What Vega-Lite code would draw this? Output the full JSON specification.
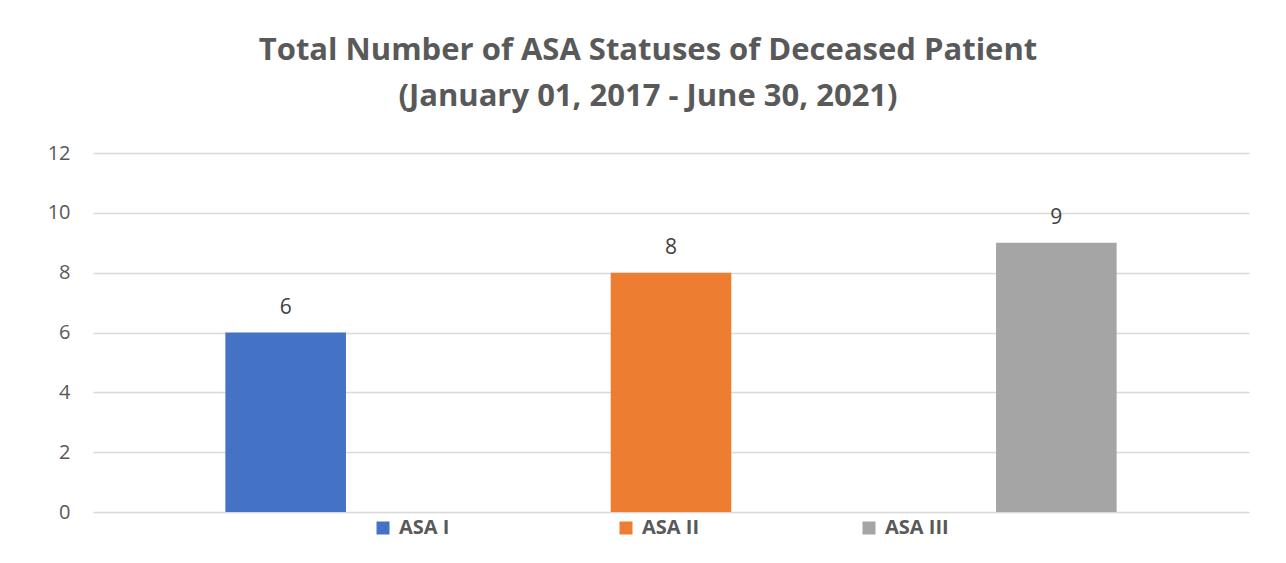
{
  "$schema": "https://vega.github.io/schema/vega-lite/v6.json",
  "autosize": "none",
  "width": 1156,
  "height": 359,
  "padding": {"left": 93, "top": 153, "right": 37, "bottom": 51},
  "background": "white",
  "config": {"view": {"stroke": null}},
  "title": {
    "text": ["Total Number of ASA Statuses of Deceased Patient", "(January 01, 2017 - June 30, 2021)"],
    "font": "Open Sans",
    "fontSize": 31,
    "fontWeight": "bold",
    "color": "#595959",
    "anchor": "middle",
    "frame": "group",
    "dx": -23,
    "offset": 30,
    "lineHeight": 46
  },
  "data": {
    "values": [
      {"status": "ASA I", "count": 6},
      {"status": "ASA II", "count": 8},
      {"status": "ASA III", "count": 9}
    ]
  },
  "encoding": {
    "x": {
      "field": "status",
      "type": "nominal",
      "sort": null,
      "axis": null,
      "scale": {"paddingInner": 0.687, "paddingOuter": 0.3435}
    },
    "y": {
      "field": "count",
      "type": "quantitative",
      "scale": {"domain": [0, 12], "nice": false},
      "axis": {
        "title": null,
        "values": [0, 2, 4, 6, 8, 10, 12],
        "domain": false,
        "ticks": false,
        "grid": true,
        "gridColor": "#D9D9D9",
        "gridWidth": 1.3,
        "labelFont": "Open Sans",
        "labelFontSize": 20,
        "labelColor": "#595959",
        "labelPadding": 23
      }
    }
  },
  "layer": [
    {
      "mark": {"type": "bar"},
      "encoding": {
        "color": {
          "field": "status",
          "type": "nominal",
          "sort": null,
          "scale": {"domain": ["ASA I", "ASA II", "ASA III"], "range": ["#4472C4", "#ED7D31", "#A5A5A5"]},
          "legend": {
            "title": null,
            "orient": "none",
            "legendX": 280,
            "legendY": 365,
            "direction": "horizontal",
            "columns": 3,
            "gridAlign": "all",
            "columnPadding": 153,
            "symbolType": "square",
            "symbolSize": 169,
            "symbolStrokeWidth": 0,
            "labelFont": "Open Sans",
            "labelFontSize": 20,
            "labelFontWeight": "bold",
            "labelColor": "#595959",
            "labelOffset": 6
          }
        }
      }
    },
    {
      "mark": {"type": "text", "dy": -25, "font": "Open Sans", "fontSize": 21, "color": "#404040"},
      "encoding": {"text": {"field": "count", "type": "quantitative"}}
    }
  ]
}
